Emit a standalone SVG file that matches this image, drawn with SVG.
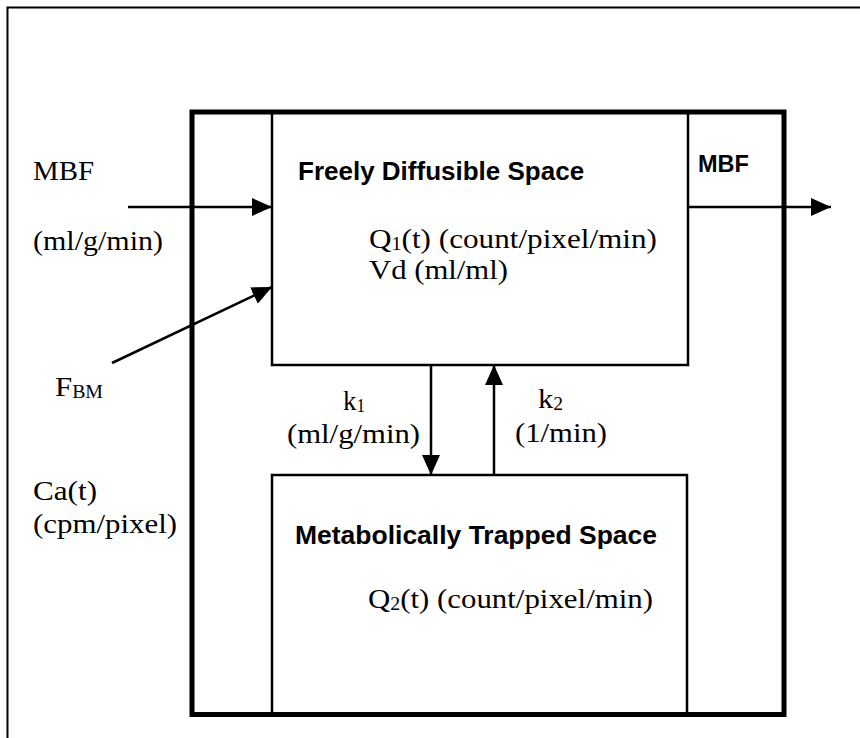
<svg xmlns="http://www.w3.org/2000/svg" width="860" height="738" viewBox="0 0 860 738">
<style>
.serif{font-family:"Liberation Serif","Times New Roman",serif;font-size:28px;fill:#000}
.sub{font-size:18px}
.bold{font-family:"Liberation Sans",Arial,sans-serif;font-size:26px;font-weight:bold;fill:#000}
.bsm{font-size:23.5px}
.box{fill:none;stroke:#000;stroke-width:2.5}
.conn{fill:none;stroke:#000;stroke-width:2.5}
</style>
<defs>
<marker id="ah" markerUnits="userSpaceOnUse" markerWidth="20" markerHeight="18" refX="20" refY="9" orient="auto" viewBox="0 0 20 18">
<path d="M0,0 L20,9 L0,18 Z" fill="#000"/>
</marker>
</defs>
<rect width="860" height="738" fill="#fff"/>
<g id="frame">
<rect x="7.5" y="7.5" width="900" height="800" fill="none" stroke="#000" stroke-width="2"/>
</g>
<g id="tissue">
<rect x="192" y="112" width="592" height="602.5" fill="none" stroke="#000" stroke-width="5"/>
</g>
<g id="freely">
<path class="box" d="M272,112 V365 H688 V112"/>
<text class="bold" x="298" y="180">Freely Diffusible Space</text>
<text class="serif" x="369" y="248" textLength="288" lengthAdjust="spacingAndGlyphs">Q<tspan class="sub" dy="2">1</tspan><tspan dy="-2">(t) (count/pixel/min)</tspan></text>
<text class="serif" x="369" y="279" textLength="139" lengthAdjust="spacingAndGlyphs">Vd (ml/ml)</text>
</g>
<g id="trapped">
<path class="box" d="M272,713 V475 H687 V713"/>
<text class="bold" x="295" y="544" textLength="362" lengthAdjust="spacingAndGlyphs">Metabolically Trapped Space</text>
<text class="serif" x="368" y="608" textLength="285" lengthAdjust="spacingAndGlyphs">Q<tspan class="sub" dy="2">2</tspan><tspan dy="-2">(t) (count/pixel/min)</tspan></text>
</g>
<g id="labels">
<text class="serif" x="33" y="180" textLength="61" lengthAdjust="spacingAndGlyphs">MBF</text>
<text class="serif" x="33" y="250" textLength="130" lengthAdjust="spacingAndGlyphs">(ml/g/min)</text>
<text class="serif" x="55" y="396" textLength="48" lengthAdjust="spacingAndGlyphs">F<tspan class="sub" dy="2">BM</tspan></text>
<text class="serif" x="33" y="500" textLength="64" lengthAdjust="spacingAndGlyphs">Ca(t)</text>
<text class="serif" x="33" y="533" textLength="144" lengthAdjust="spacingAndGlyphs">(cpm/pixel)</text>
<text class="bold bsm" x="698" y="172">MBF</text>
<text class="serif" x="343" y="410" textLength="22" lengthAdjust="spacingAndGlyphs">k<tspan class="sub" dy="2">1</tspan></text>
<text class="serif" x="287" y="443" textLength="133" lengthAdjust="spacingAndGlyphs">(ml/g/min)</text>
<text class="serif" x="538" y="408" textLength="25" lengthAdjust="spacingAndGlyphs">k<tspan class="sub" dy="2">2</tspan></text>
<text class="serif" x="515" y="442" textLength="92" lengthAdjust="spacingAndGlyphs">(1/min)</text>
</g>
<g id="connectors">
<line class="conn" x1="128" y1="207" x2="272" y2="207" marker-end="url(#ah)"/>
<line class="conn" x1="112" y1="363" x2="272" y2="287" marker-end="url(#ah)"/>
<line class="conn" x1="688" y1="207" x2="831" y2="207" marker-end="url(#ah)"/>
<line class="conn" x1="431" y1="365" x2="431" y2="475" marker-end="url(#ah)"/>
<line class="conn" x1="494" y1="475" x2="494" y2="365" marker-end="url(#ah)"/>
</g>
</svg>
